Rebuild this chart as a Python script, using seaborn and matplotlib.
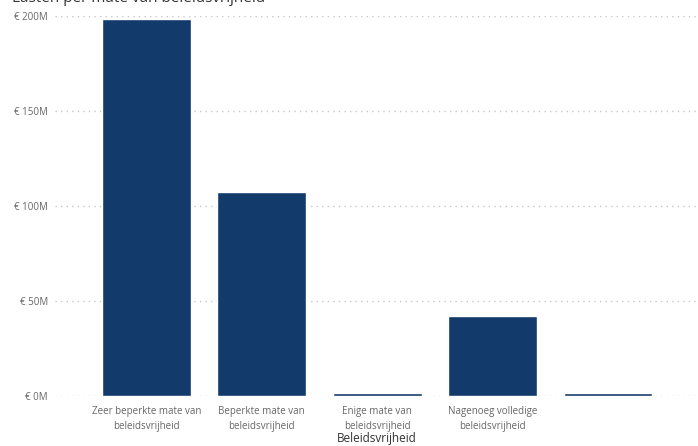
import matplotlib
matplotlib.use("Agg")
import matplotlib.pyplot as plt
import seaborn as sns
import pandas as pd

categories = ["Zeer beperkte mate van\nbeleidsvrijheid",
              "Beperkte mate van\nbeleidsvrijheid",
              "Enige mate van\nbeleidsvrijheid",
              "Nagenoeg volledige\nbeleidsvrijheid",
              " "]
values = [198.5, 107.5, 1.5, 42.3, 1.7]  # in miljoen euro
yticks = [0, 50, 100, 150, 200]
ytick_labels = ["€ 0M", "€ 50M", "€ 100M", "€ 150M", "€ 200M"]

sns.set_theme(style="white")
plt.rcParams['font.family'] = ['Open Sans', 'DejaVu Sans']

df = pd.DataFrame({"cat": categories, "val": values})

W, H = 698, 446
fig = plt.figure(figsize=(W / 100, H / 100), dpi=100)
ax = fig.add_axes([55 / W, (H - 396) / H, (698 - 55) / W, (396 - 16) / H])

sns.barplot(data=df, x="cat", y="val", order=categories, color="#123a6b",
            width=0.77, saturation=1, ax=ax, zorder=3)

ax.set_xlim(-0.79, 4.78)
ax.set_ylim(0, 200)
ax.set_yticks(yticks)
ax.set_yticklabels(ytick_labels)
ax.yaxis.grid(True, linestyle=(0, (1, 3)), color="#c8c8c8", linewidth=1)
ax.set_axisbelow(True)
for s in ax.spines.values():
    s.set_visible(False)
ax.tick_params(axis="y", length=0, pad=5, labelsize=7, labelcolor="#666666")
ax.tick_params(axis="x", length=0, pad=7, labelsize=7, labelcolor="#666666")
for lbl in ax.get_xticklabels():
    lbl.set_linespacing(1.5)
ax.set_ylabel("")
ax.set_xlabel("Beleidsvrijheid", fontsize=8.5, color="#333333", labelpad=0)

fig.text(12 / W, 1 - 2 / H, "Lasten per mate van beleidsvrijheid",
         fontsize=11, color="#333333", va="baseline", ha="left")

fig.savefig("out.png", dpi=100)
